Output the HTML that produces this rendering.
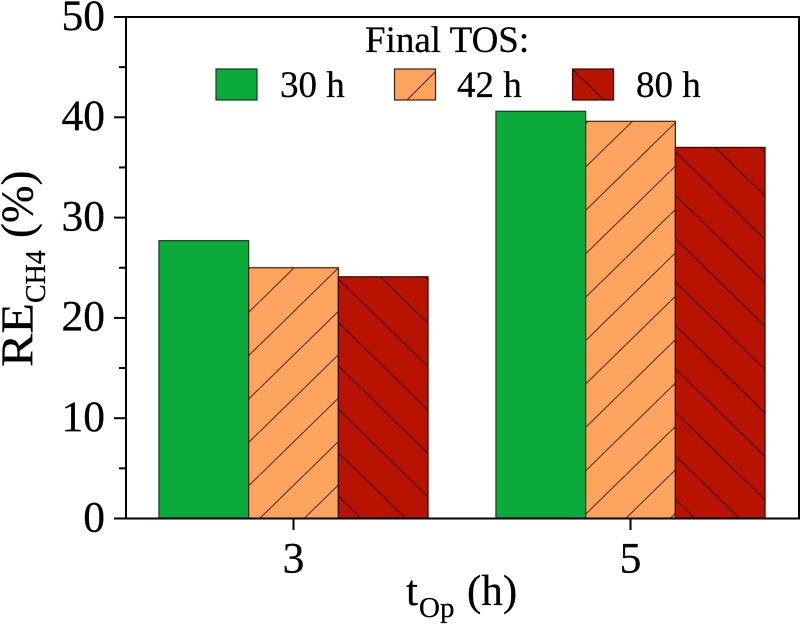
<!DOCTYPE html>
<html>
<head>
<meta charset="utf-8">
<style>
html,body{margin:0;padding:0;background:#fff;width:800px;height:624px;overflow:hidden}
svg{display:block;font-family:"Liberation Serif",serif;fill:#000}
text{stroke:#000;stroke-width:0.25px}
</style>
</head>
<body>
<svg id="chart" width="800" height="624" viewBox="0 0 800 624" xmlns="http://www.w3.org/2000/svg">
  <defs id="defs"></defs>
  <g id="bars"></g>
  <g id="axes"></g>
  <g>
    <text x="365" y="52" font-size="37">Final TOS:</text>
    <rect x="216" y="69" width="41" height="31" fill="#0BAA3A" stroke="#1a3a1a" stroke-width="1.2"/>
    <text x="280" y="97" font-size="37">30 h</text>
    <rect x="394.5" y="69" width="41" height="31" fill="#FFA45F" stroke="#40200a" stroke-width="1.2"/>
    <line x1="407" y1="100" x2="435" y2="72" stroke="#40200a" stroke-width="1"/>
    <text x="457" y="97" font-size="37">42 h</text>
    <rect x="572.5" y="69" width="41" height="31" fill="#B81200" stroke="#300800" stroke-width="1.2"/>
    <line x1="573" y1="70" x2="604" y2="100" stroke="#300800" stroke-width="1"/>
    <text x="636" y="97" font-size="37">80 h</text>
  </g>
  <text x="406" y="605" font-size="43">t</text>
  <text x="419" y="617" font-size="29">Op</text>
  <text x="467" y="605" font-size="43">(h)</text>
  <g transform="translate(32.5,367) rotate(-90)">
    <text x="0" y="0" font-size="46" textLength="64" lengthAdjust="spacingAndGlyphs">RE</text>
    <text x="64" y="12.5" font-size="28">CH4</text>
    <text x="129" y="0" font-size="45">(%)</text>
  </g>
</svg>
<script>
const categories = ["3", "5"];
const seriesNames = ["30 h", "42 h", "80 h"];
const values30h = [27.7, 40.6];
const values42h = [25.0, 39.6];
const values80h = [24.1, 37.0];
const yTickLabels = [0, 10, 20, 30, 40, 50];
const yMinorTicks = [5, 15, 25, 35, 45];

const NS = "http://www.w3.org/2000/svg";
const svg = document.getElementById("chart");
const barsG = document.getElementById("bars");
const axesG = document.getElementById("axes");
const defs = document.getElementById("defs");

const plot = {left: 126, right: 799, top: 17, bottom: 518.5};
const yScale = v => plot.bottom - (v / 50) * (plot.bottom - plot.top);
const groupCenter = i => 293.5 + i * 337;
const barWidth = 89.7;

function make(tag, attrs, parent) {
  const e = document.createElementNS(NS, tag);
  for (const k in attrs) e.setAttribute(k, attrs[k]);
  parent.appendChild(e);
  return e;
}

const seriesStyle = [
  {vals: values30h, fill: "#0BAA3A", stroke: "#1a3a1a", hatch: 0, phase: [0, 0]},
  {vals: values42h, fill: "#FFA45F", stroke: "#40200a", hatch: 1, phase: [11, 40]},
  {vals: values80h, fill: "#B81200", stroke: "#300800", hatch: -1, phase: [23, 20]}
];
const tileW = 44.4, tileH = 43.4;

seriesStyle.forEach((s, si) => {
  categories.forEach((c, ci) => {
    const x = groupCenter(ci) + (si - 1.5) * barWidth;
    const y = yScale(s.vals[ci]);
    const h = plot.bottom - y;
    const rect = make("rect", {x: x, y: y, width: barWidth, height: h, fill: s.fill}, barsG);
    
    
    if (s.hatch !== 0) {
      const id = "hatch-" + si + "-" + ci;
      const p = make("pattern", {
        id: id, patternUnits: "userSpaceOnUse", width: tileW, height: tileH,
        x: x + s.phase[ci], y: s.hatch > 0 ? plot.bottom - tileH : plot.bottom
      }, defs);
      if (s.hatch > 0) {
        make("line", {x1: -1, y1: tileH + 1, x2: tileW + 1, y2: -1, stroke: s.stroke, "stroke-width": 1}, p);
      } else {
        make("line", {x1: -1, y1: -1, x2: tileW + 1, y2: tileH + 1, stroke: s.stroke, "stroke-width": 1}, p);
      }
      const over = make("rect", {x: x, y: y, width: barWidth, height: h, fill: "url(#" + id + ")"}, barsG);
      
      
    }
    const outline = make("rect", {x: x, y: y, width: barWidth, height: h, fill: "none", stroke: s.stroke, "stroke-width": 1.2}, barsG);
    
    
  });
});

const frame = make("path", {
  d: "M" + plot.left + " " + plot.bottom + "V" + plot.top + "H" + plot.right + "V" + plot.bottom + "H" + plot.left,
  fill: "none", stroke: "#000", "stroke-width": 2
}, axesG);



yTickLabels.forEach(t => {
  const y = yScale(t);
  const tick = make("line", {x1: 114, x2: plot.left, y1: y, y2: y, stroke: "#000", "stroke-width": 2}, axesG);
  
  
  const lab = make("text", {x: 105, y: y + 12.8, "font-size": 43.5, "text-anchor": "end"}, axesG);
  lab.textContent = t;
  
  
});

yMinorTicks.forEach(t => {
  const y = yScale(t);
  const tick = make("line", {x1: 119, x2: plot.left, y1: y, y2: y, stroke: "#000", "stroke-width": 2}, axesG);
  
  
});

categories.forEach((c, i) => {
  const x = groupCenter(i);
  const tick = make("line", {x1: x, x2: x, y1: plot.bottom, y2: 530, stroke: "#000", "stroke-width": 2}, axesG);
  
  
  const lab = make("text", {x: x, y: 572.5, "font-size": 43.5, "text-anchor": "middle"}, axesG);
  lab.textContent = c;
  
  
});
</script>
</body>
</html>
